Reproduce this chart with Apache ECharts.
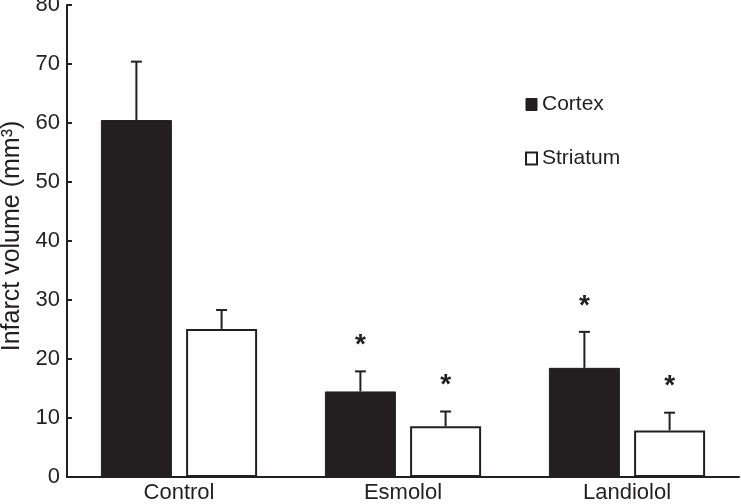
<!DOCTYPE html>
<html>
<head>
<meta charset="utf-8">
<script src="https://cdn.jsdelivr.net/npm/echarts@6/dist/echarts.min.js"></script>
<style>html,body{margin:0;padding:0;background:#fff}#c{width:741px;height:504px}</style>
</head>
<body>
<div id="c"></div>
<script>
var categories = ['Control', 'Esmolol', 'Landiolol'];
var cortexMean = [60.5, 14.5, 18.5];
var cortexSD = [9.9, 3.4, 6.1];
var cortexSig = [0, 1, 1];
var striatumMean = [25.1, 8.6, 7.9];
var striatumSD = [3.2, 2.5, 3.0];
var striatumSig = [0, 1, 1];
var yTicks = [0, 10, 20, 30, 40, 50, 60, 70, 80];

var INK = '#231f20';
var FONT = '"Liberation Sans", Arial, Helvetica, sans-serif';
var BAR_W = 71, BAR_GAP = 0.2;
var OFFSET = BAR_W / 2 + BAR_W * BAR_GAP / 2;

function errData(mean, sd, sig) {
  return mean.map(function (m, i) { return [i, m, sd[i], sig[i]]; });
}
function makeRender(dir) {
  return function (params, api) {
    var i = api.value(0), m = api.value(1), s = api.value(2), sig = api.value(3);
    var base = api.coord([i, m]);
    var top = api.coord([i, m + s]);
    var x = base[0] + dir * OFFSET;
    var cap = 5.5;
    var children = [
      { type: 'line', shape: { x1: x, y1: base[1], x2: x, y2: top[1] }, style: { stroke: INK, lineWidth: 2 } },
      { type: 'line', shape: { x1: x - cap, y1: top[1], x2: x + cap, y2: top[1] }, style: { stroke: INK, lineWidth: 2 } }
    ];
    if (sig) {
      children.push({ type: 'text', style: { text: '*', x: x, y: top[1] - 26, align: 'center', verticalAlign: 'middle', fill: INK, font: 'bold 28px ' + FONT } });
    }
    return { type: 'group', children: children };
  };
}

var chart = echarts.init(document.getElementById('c'), null, { renderer: 'canvas' });
chart.setOption({
  animation: false,
  backgroundColor: '#fff',
  textStyle: { fontFamily: FONT, color: INK },
  grid: { left: 67, right: 2, top: 5, bottom: 27, containLabel: false, outerBoundsMode: 'none' },
  legend: {
    orient: 'vertical', left: 520, top: 89, itemWidth: 11, itemHeight: 12, itemGap: 33,
    textStyle: { fontSize: 21, color: INK, fontFamily: FONT },
    data: [
      { name: 'Cortex', icon: 'rect', itemStyle: { color: INK, borderColor: INK, borderWidth: 1 } },
      { name: 'Striatum', icon: 'rect', itemStyle: { color: '#fff', borderColor: INK, borderWidth: 2 } }
    ]
  },
  xAxis: {
    type: 'category', data: categories,
    axisLine: { lineStyle: { color: INK, width: 2 } },
    axisTick: { inside: true, length: 6, lineStyle: { color: INK, width: 2 } },
    axisLabel: { fontSize: 22, color: INK, margin: 5, fontFamily: FONT }
  },
  yAxis: {
    type: 'value', min: 0, max: 80, interval: 10,
    name: 'Infarct volume (mm³)', nameLocation: 'middle', nameGap: 39,
    nameTextStyle: { fontSize: 25, color: INK, fontFamily: FONT, padding: [0, 0, 0, 10] },
    splitLine: { show: false },
    axisLine: { show: true, lineStyle: { color: INK, width: 2 } },
    axisTick: { show: true, inside: true, length: 5, lineStyle: { color: INK, width: 2 } },
    axisLabel: { fontSize: 22, color: INK, margin: 7, fontFamily: FONT,
      formatter: function (v) { return yTicks.indexOf(v) >= 0 ? String(v) : ''; } }
  },
  series: [
    { name: 'Cortex', type: 'bar', data: cortexMean, barWidth: BAR_W, barGap: '20%',
      itemStyle: { color: INK, borderColor: INK, borderWidth: 1 } },
    { name: 'Striatum', type: 'bar', data: striatumMean, barWidth: BAR_W,
      itemStyle: { color: '#fff', borderColor: INK, borderWidth: 2 } },
    { name: 'cortexErr', type: 'custom', data: errData(cortexMean, cortexSD, cortexSig),
      renderItem: makeRender(-1), z: 5, silent: true },
    { name: 'striatumErr', type: 'custom', data: errData(striatumMean, striatumSD, striatumSig),
      renderItem: makeRender(1), z: 5, silent: true }
  ]
});
</script>
</body>
</html>
